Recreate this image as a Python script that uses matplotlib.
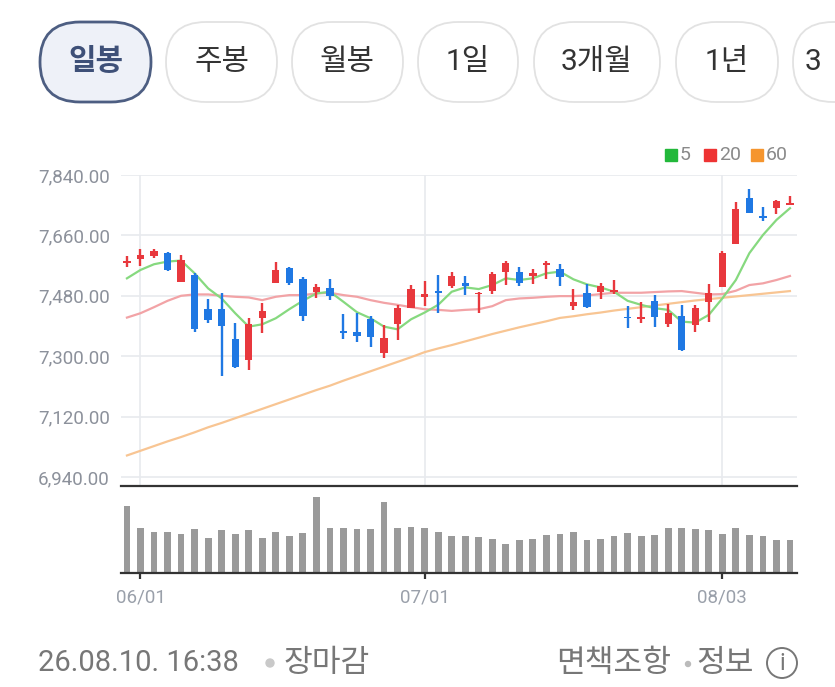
import matplotlib
matplotlib.use("Agg")
import matplotlib.pyplot as plt
from matplotlib.patches import FancyBboxPatch, Rectangle, Circle
import numpy as np

plt.rcParams['font.family'] = ['Roboto', 'Noto Sans CJK KR', 'DejaVu Sans']

# daily candles
opens = [7577, 7589, 7599, 7607, 7520, 7542, 7440, 7440, 7350, 7290,
         7415, 7519, 7562, 7529, 7490, 7504, 7375, 7373, 7410, 7310,
         7395, 7443, 7477, 7495, 7509, 7519, 7484, 7494, 7552, 7552,
         7540, 7572, 7559, 7450, 7489, 7490, 7492, 7418, 7411, 7465,
         7396, 7421, 7393, 7462, 7507, 7634, 7772, 7719, 7741, 7751]
highs = [7599, 7619, 7619, 7610, 7602, 7547, 7469, 7487, 7398, 7413,
         7459, 7580, 7567, 7535, 7515, 7531, 7425, 7430, 7420, 7392,
         7453, 7512, 7525, 7542, 7552, 7539, 7490, 7550, 7584, 7565,
         7559, 7584, 7574, 7499, 7514, 7519, 7527, 7450, 7462, 7482,
         7455, 7453, 7453, 7514, 7614, 7760, 7797, 7745, 7765, 7777]
lows = [7567, 7568, 7592, 7553, 7520, 7373, 7398, 7242, 7266, 7260,
        7368, 7519, 7512, 7406, 7473, 7467, 7350, 7341, 7328, 7294,
        7348, 7443, 7450, 7430, 7502, 7482, 7428, 7485, 7512, 7509,
        7515, 7529, 7509, 7438, 7443, 7470, 7485, 7383, 7398, 7388,
        7388, 7315, 7373, 7403, 7507, 7634, 7728, 7703, 7724, 7751]
closes = [7584, 7601, 7613, 7557, 7587, 7380, 7407, 7391, 7268, 7395,
          7434, 7557, 7517, 7420, 7505, 7480, 7368, 7360, 7358, 7353,
          7443, 7500, 7484, 7489, 7538, 7509, 7487, 7545, 7577, 7519,
          7547, 7577, 7537, 7460, 7446, 7510, 7497, 7413, 7418, 7418,
          7430, 7318, 7443, 7489, 7607, 7738, 7728, 7711, 7762, 7756]
volumes = [200, 134, 124, 124, 118, 131, 106, 128, 118, 128,
           106, 124, 110, 121, 229, 134, 134, 131, 131, 212,
           134, 138, 134, 124, 110, 110, 107, 103, 86, 100,
           103, 114, 118, 124, 100, 103, 110, 121, 110, 114,
           134, 134, 131, 128, 118, 134, 114, 110, 100, 100]

ma5 = [7532, 7557, 7574, 7582, 7585, 7547, 7502, 7472, 7428, 7388,
       7395, 7413, 7440, 7465, 7487, 7492, 7462, 7431, 7413, 7388,
       7380, 7410, 7430, 7453, 7492, 7505, 7500, 7512, 7532, 7527,
       7532, 7547, 7552, 7529, 7514, 7505, 7492, 7465, 7453, 7443,
       7438, 7403, 7400, 7423, 7472, 7527, 7607, 7661, 7706, 7741]
ma20 = [7415, 7428, 7446, 7465, 7480, 7484, 7484, 7480, 7477, 7475,
        7467, 7477, 7482, 7482, 7487, 7489, 7482, 7477, 7467, 7459,
        7453, 7446, 7440, 7438, 7435, 7438, 7440, 7449, 7467, 7472,
        7474, 7477, 7479, 7479, 7481, 7485, 7489, 7489, 7489, 7491,
        7493, 7494, 7489, 7484, 7485, 7495, 7512, 7517, 7527, 7539]
ma60 = [7004, 7018, 7032, 7046, 7059, 7073, 7088, 7101, 7115, 7129,
        7143, 7157, 7171, 7185, 7199, 7212, 7227, 7241, 7255, 7269,
        7283, 7297, 7312, 7323, 7333, 7344, 7355, 7366, 7376, 7386,
        7395, 7404, 7414, 7419, 7425, 7430, 7436, 7441, 7446, 7451,
        7456, 7461, 7466, 7470, 7474, 7478, 7482, 7486, 7490, 7494]

price_ticks = [6940, 7120, 7300, 7480, 7660, 7840]
date_idx = [1, 22, 44]
date_labels = ['06/01', '07/01', '08/03']
periods = ['일봉', '주봉', '월봉', '1일', '3개월', '1년', '3']

RED = '#e8383d'
BLUE = '#1f78e3'
GRID = '#e8eaee'
LABEL = '#8c919b'

W, H = 835, 687
fig = plt.figure(figsize=(W / 100, H / 100), dpi=100)
fig.patch.set_facecolor('white')


def px_box(x0, y0, x1, y1):
    # pixel box (origin top-left) -> figure fraction rect
    return [x0 / W, 1 - y1 / H, (x1 - x0) / W, (y1 - y0) / H]


# overlay for the buttons and footer
top = fig.add_axes([0, 0, 1, 1])
top.set_xlim(0, W)
top.set_ylim(H, 0)
top.axis('off')

btn_x = [(40, 151), (166, 277), (292, 403), (418, 518), (534, 660), (676, 778), (793, 904)]
for k, (name, (x0, x1)) in enumerate(zip(periods, btn_x)):
    sel = k == 0
    last = k == len(periods) - 1
    box = FancyBboxPatch((x0, 22), x1 - x0, 80, boxstyle="round,pad=0,rounding_size=40",
                         fc='#eef1f8' if sel else 'white',
                         ec='#4d5e82' if sel else '#e2e2e2', lw=2.0 if sel else 1.3)
    top.add_patch(box)
    top.text(x0 + 12 if last else (x0 + x1) / 2, 62, name,
             ha='left' if last else 'center', va='center',
             fontsize=21.5, color='#3e5078' if sel else '#333333',
             fontweight='bold' if sel else 'normal')

# footer
top.text(38, 663, '26.08.10. 16:38', va='center', fontsize=21, color='#777777')
top.add_patch(Circle((270, 663), 4, color='#c9c9c9'))
top.text(284, 663, '장마감', va='center', fontsize=22.5, color='#777777')
top.text(556, 663, '면책조항', va='center', fontsize=22.5, color='#777777')
top.add_patch(Circle((688, 664), 2.5, color='#bbbbbb'))
top.text(696, 663, '정보', va='center', fontsize=22.5, color='#777777')
top.add_patch(Circle((782, 663), 15, fc='none', ec='#777777', lw=1.4))
top.text(782, 664, 'i', ha='center', va='center', fontsize=17, color='#777777')

# legend
for (x0, lab, c) in [(665, '5', '#22b83a'), (704, '20', '#ee3333'), (751, '60', '#f5952e')]:
    top.add_patch(Rectangle((x0, 149), 12, 12, color=c))
    top.text(x0 + 15, 155, lab, va='center', fontsize=14, color='#8a8a8a')

# price panel
ax = fig.add_axes(px_box(121, 175, 797, 486))
x = np.arange(len(closes))
o = np.array(opens)
c = np.array(closes)
colors = np.where(c >= o, RED, BLUE)

ax.plot(x, ma60, color='#f8c593', lw=1.6, zorder=2)
ax.plot(x, ma20, color='#f2a3a6', lw=1.6, zorder=2)
ax.plot(x, ma5, color='#86d97f', lw=1.6, zorder=2)
ax.vlines(x, lows, highs, color=colors, lw=1.7, zorder=3)
ax.bar(x, np.maximum(np.abs(c - o), 4), bottom=np.minimum(o, c), width=0.54,
       color=colors, lw=0, zorder=3)

ax.set_xlim(-0.44, 49.52)
ax.set_ylim(6913, 7840)
ax.set_yticks(price_ticks)
ax.set_yticklabels([f'{v:,.2f}' for v in price_ticks])
ax.set_xticks(date_idx)
ax.set_xticklabels([])
ax.grid(True, color=GRID, lw=1.2)
ax.set_axisbelow(True)
ax.tick_params(length=0, labelsize=13.5, labelcolor=LABEL, pad=8)
for s in ax.spines.values():
    s.set_visible(False)

# volume panel
axv = fig.add_axes(px_box(121, 486, 797, 573))
axv.bar(x, volumes, width=0.5, color='#9a9a9a', lw=0)
axv.set_xlim(-0.44, 49.52)
axv.set_ylim(0, 261)
axv.set_yticks([])
axv.set_xticks(date_idx)
axv.set_xticklabels(date_labels)
axv.tick_params(axis='x', direction='out', length=4, width=1.6, color='#333333',
                labelsize=13.5, labelcolor='#9aa0aa', pad=7)
for side in ['left', 'right']:
    axv.spines[side].set_visible(False)
for side in ['top', 'bottom']:
    axv.spines[side].set_color('#333333')
    axv.spines[side].set_linewidth(1.6)

fig.savefig('out.png', dpi=100, facecolor='white')
